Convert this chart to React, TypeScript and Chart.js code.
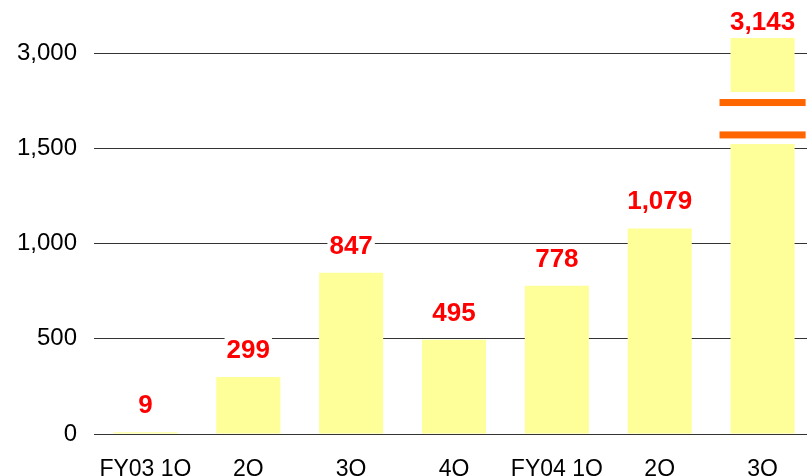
import React, { useEffect, useRef } from "react";
import { Chart, registerables } from "chart.js";

Chart.register(...registerables);

const categories = ["FY03 1Q", "2Q", "3Q", "4Q", "FY04 1Q", "2Q", "3Q"];
const values = [9, 299, 847, 495, 778, 1079, 3143];
const yTickValues = [0, 500, 1000, 1500, 2000];
// axis break: real 3,000 is drawn where 2,000 would be
const BREAK_OFFSET = 1000;
const BREAK_THRESHOLD = 2500;
const BREAK_GAP = [1522, 1795];
const BREAK_LINES = [1570, 1740];

const toDisplay = (v: number) => (v > BREAK_THRESHOLD ? v - BREAK_OFFSET : v);
const tickLabel = (v: number) => (v >= 2000 ? v + BREAK_OFFSET : v).toLocaleString("en-US");

const FONT = "'Liberation Sans', Arial, Helvetica, sans-serif";

const labelPlugin = {
  id: "barLabels",
  afterDatasetsDraw(chart: any) {
    const { ctx, chartArea } = chart;
    const meta = chart.getDatasetMeta(0);
    const y = chart.scales.y;
    ctx.save();
    // axis break on broken bars
    meta.data.forEach((el: any, i: number) => {
      if (values[i] <= BREAK_THRESHOLD) return;
      const half = el.width / 2 + 11;
      const yTop = y.getPixelForValue(BREAK_GAP[1]);
      const yBot = y.getPixelForValue(BREAK_GAP[0]);
      ctx.fillStyle = "#ffffff";
      ctx.fillRect(el.x - half, yTop, half * 2, yBot - yTop);
      ctx.fillStyle = "#FF6600";
      BREAK_LINES.forEach((bv) => {
        const py = y.getPixelForValue(bv);
        ctx.fillRect(el.x - half, py - 3.5, half * 2, 7);
      });
    });
    ctx.font = `bold 26px ${FONT}`;
    ctx.textAlign = "center";
    ctx.textBaseline = "alphabetic";
    meta.data.forEach((el: any, i: number) => {
      const text = values[i].toLocaleString("en-US");
      const base = Math.max(el.y - 19, chartArea.top - 23);
      const w = ctx.measureText(text).width;
      ctx.fillStyle = "#ffffff";
      ctx.fillRect(el.x - w / 2 - 2, base - 22, w + 4, 30);
      ctx.fillStyle = "#FF0000";
      ctx.fillText(text, el.x, base);
    });
    ctx.restore();
  },
};

export default function App() {
  const ref = useRef<HTMLCanvasElement>(null);
  useEffect(() => {
    document.body.style.margin = "0";
    document.documentElement.style.overflow = "hidden";
    const chart = new Chart(ref.current!, {
      type: "bar",
      data: {
        labels: categories,
        datasets: [
          {
            data: values.map(toDisplay),
            backgroundColor: "#FFFF99",
            borderWidth: 0,
            barPercentage: 0.623,
            categoryPercentage: 1,
            clip: false as any,
          },
        ],
      },
      options: {
        animation: false,
        responsive: true,
        maintainAspectRatio: false,
        layout: { padding: { top: 53, left: 0, right: 0, bottom: 0 } },
        plugins: { legend: { display: false }, tooltip: { enabled: false } },
        scales: {
          x: {
            grid: { display: false },
            border: { display: false },
            ticks: {
              color: "#000",
              font: { family: FONT, size: 23, lineHeight: 1 },
              padding: 16,
              maxRotation: 0,
              autoSkip: false,
            },
            afterFit: (s: any) => {
              s.height = 42;
            },
          },
          y: {
            min: 0,
            max: 2000,
            afterBuildTicks: (s: any) => {
              s.ticks = yTickValues.map((v) => ({ value: v }));
            },
            grid: { color: "#333", lineWidth: 1, drawTicks: false },
            border: { display: false },
            ticks: {
              color: "#000",
              font: { family: FONT, size: 24 },
              padding: 17,
              callback: (v: any) => tickLabel(Number(v)),
            },
            afterFit: (s: any) => {
              s.width = 94;
            },
          },
        },
      },
      plugins: [labelPlugin],
    });
    return () => chart.destroy();
  }, []);
  return (
    <div style={{ position: "absolute", left: 0, top: 0, width: 814, height: 476 }}>
      <canvas ref={ref} />
    </div>
  );
}
